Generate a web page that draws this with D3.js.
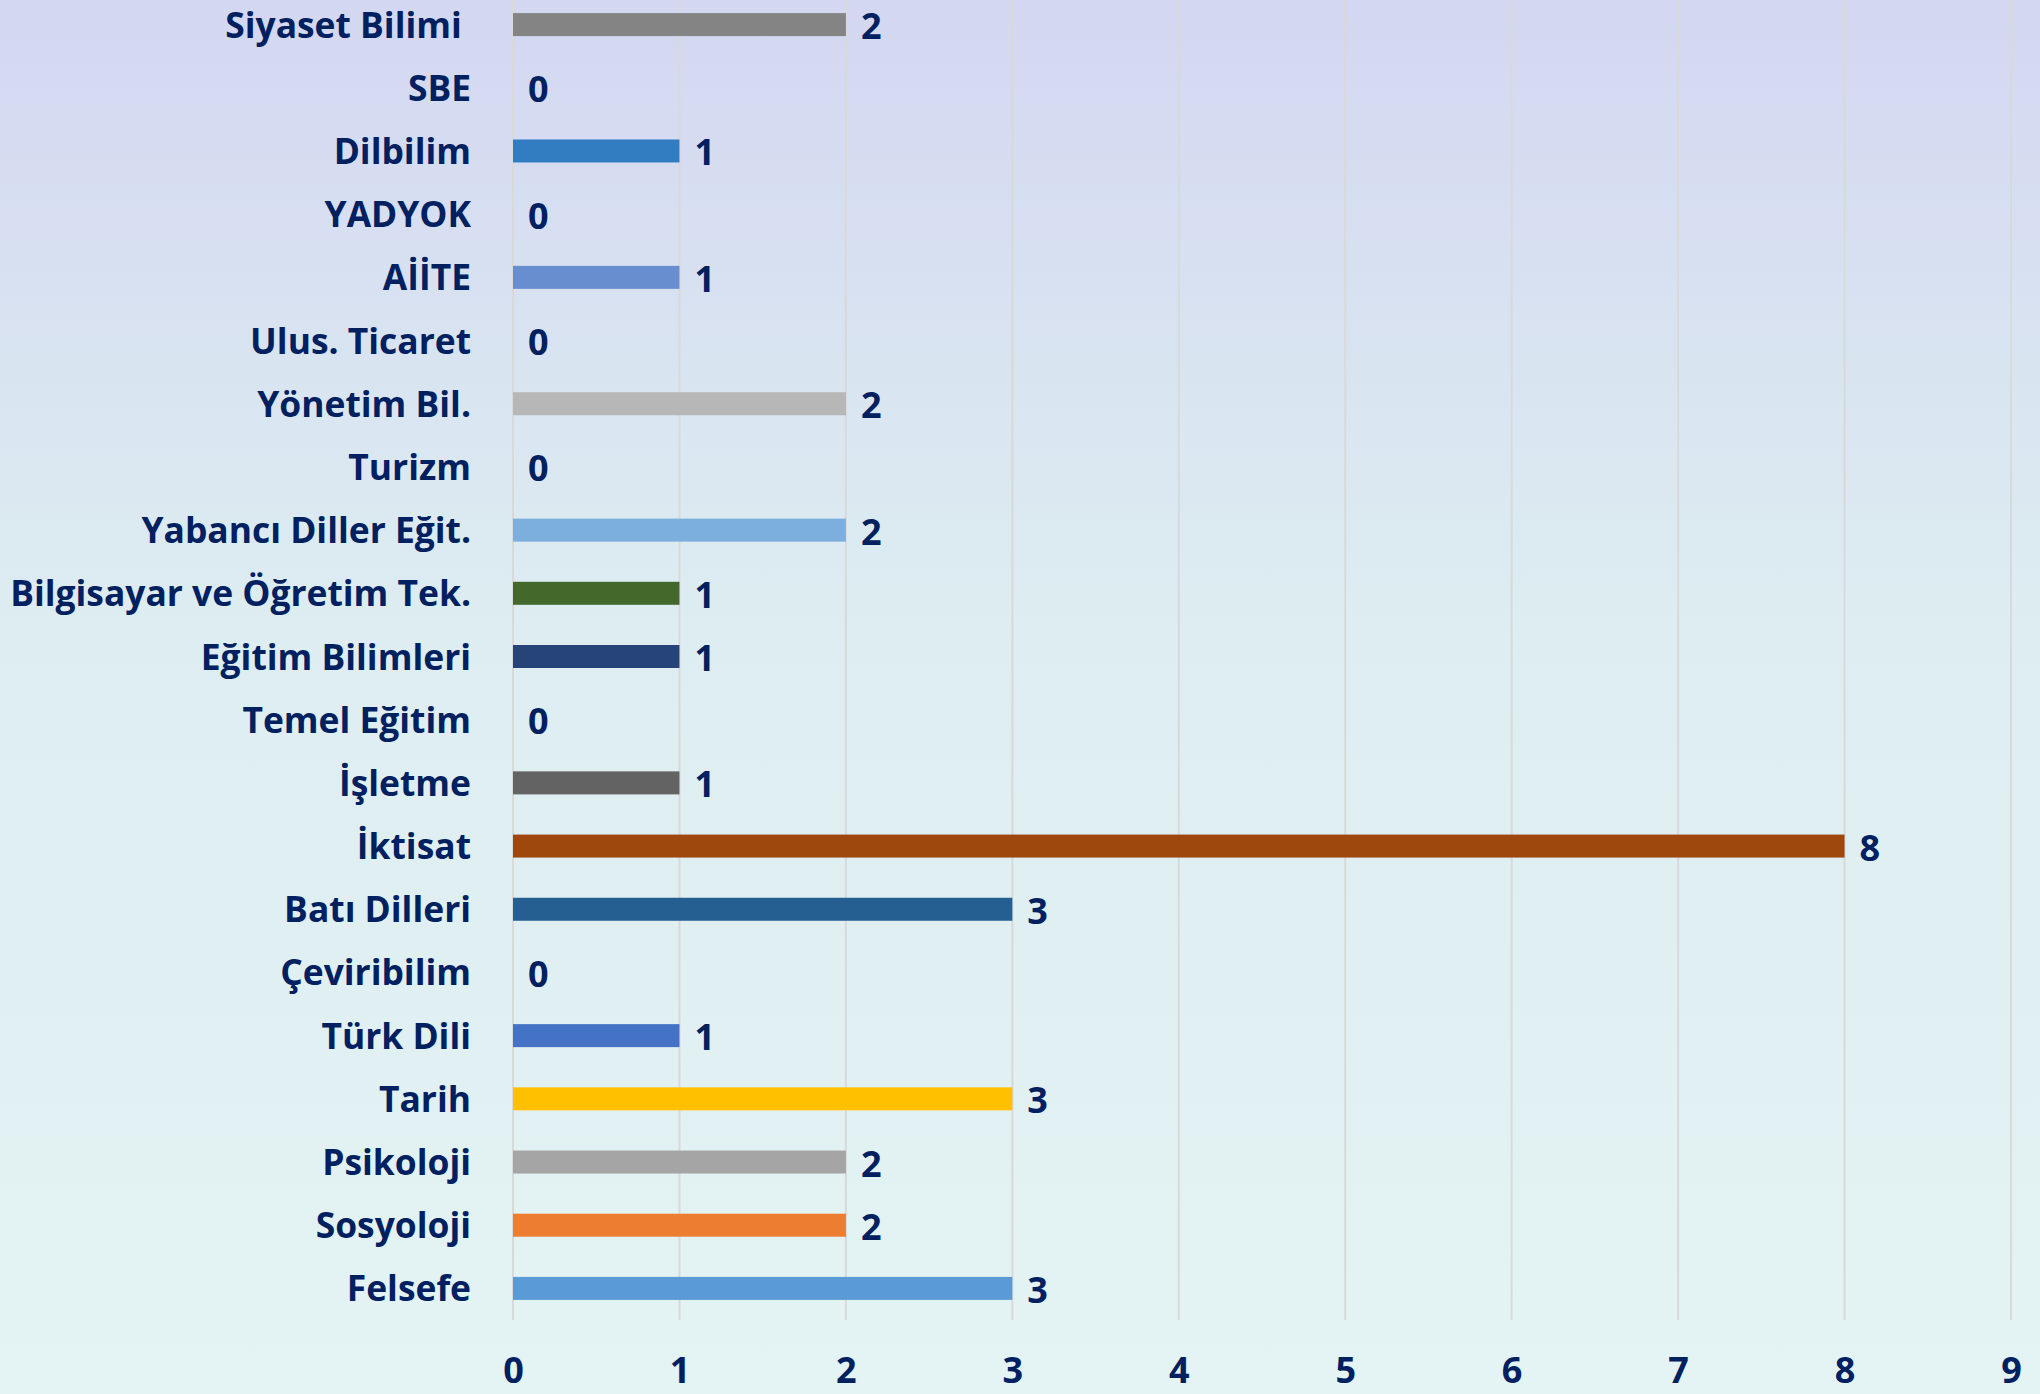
<!DOCTYPE html>
<html><head><meta charset="utf-8">
<script src="https://cdn.jsdelivr.net/npm/d3@7"></script>
<style>
html,body{margin:0;padding:0;}
svg{display:block;}
text{font-family:"Open Sans",Lato,sans-serif;font-weight:700;fill:#002060;white-space:pre;}
</style></head><body>
<svg id="chart" width="2040" height="1394"></svg>
<script>
const categories = ["Siyaset Bilimi ","SBE","Dilbilim","YADYOK","AİİTE","Ulus. Ticaret","Yönetim Bil.","Turizm","Yabancı Diller Eğit.","Bilgisayar ve Öğretim Tek.","Eğitim Bilimleri","Temel Eğitim","İşletme","İktisat","Batı Dilleri","Çeviribilim","Türk Dili","Tarih","Psikoloji","Sosyoloji","Felsefe"];
const values = [2,0,1,0,1,0,2,0,2,1,1,0,1,8,3,0,1,3,2,2,3];
const colors = ["#848484","#D26012","#327DC2","#8CC168","#698ED0","#FFCD33","#B7B7B7","#F1975A","#7CAFDD","#43682B","#264478","#997300","#636363","#9E480E","#255E91","#70AD47","#4472C4","#FFC000","#A5A5A5","#ED7D31","#5B9BD5"];
const xTicks = [0,1,2,3,4,5,6,7,8,9];

const W = 2040, H = 1394;
const svg = d3.select("#chart");
const defs = svg.append("defs");
const grad = defs.append("linearGradient").attr("id","bg").attr("x1",0).attr("y1",0).attr("x2",0).attr("y2",1);
grad.append("stop").attr("offset","0").attr("stop-color","#d3d7f1");
grad.append("stop").attr("offset","0.45").attr("stop-color","#ddedf1");
grad.append("stop").attr("offset","1").attr("stop-color","#e4f3f3");
svg.append("rect").attr("width",W).attr("height",H).attr("fill","url(#bg)");

const x = d3.scaleLinear().domain([0,9]).range([513,2011]);
const y = d3.scaleBand().domain(categories).range([-7,1320]).paddingInner(0.636).paddingOuter(0.318);

// gridlines
svg.append("g").selectAll("line").data(xTicks).join("line")
  .attr("x1",d=>x(d)).attr("x2",d=>x(d)).attr("y1",0).attr("y2",1320)
  .attr("stroke","#d9d9d9").attr("stroke-width",2);

// bars
svg.append("g").selectAll("rect").data(categories).join("rect")
  .attr("x",x(0)).attr("y",d=>y(d)).attr("height",y.bandwidth())
  .attr("width",(d,i)=>x(values[i])-x(0)).attr("fill",(d,i)=>colors[i]);

// value labels
svg.append("g").selectAll("text").data(categories).join("text")
  .attr("x",(d,i)=>x(values[i])+15).attr("y",d=>y(d)+y.bandwidth()/2+1)
  .attr("dominant-baseline","central").attr("font-size",36)
  .text((d,i)=>values[i]);

// category labels
svg.append("g").selectAll("text").data(categories).join("text")
  .attr("x",471).attr("y",d=>y(d)+y.bandwidth()/2-1)
  .attr("text-anchor","end").attr("dominant-baseline","central").attr("font-size",35.4)
  .text(d=>d);

// x axis labels
const xAxis = d3.axisBottom(x).tickValues(xTicks).tickSize(0).tickPadding(0);
const gx = svg.append("g").attr("transform","translate(0,1383)").call(xAxis);
gx.select(".domain").remove();
gx.selectAll("text").attr("font-size",36).attr("dy",null).attr("y",0)
  .style("font-family","'Open Sans',sans-serif").style("font-weight",700).attr("fill","#002060");
</script>
</body></html>
